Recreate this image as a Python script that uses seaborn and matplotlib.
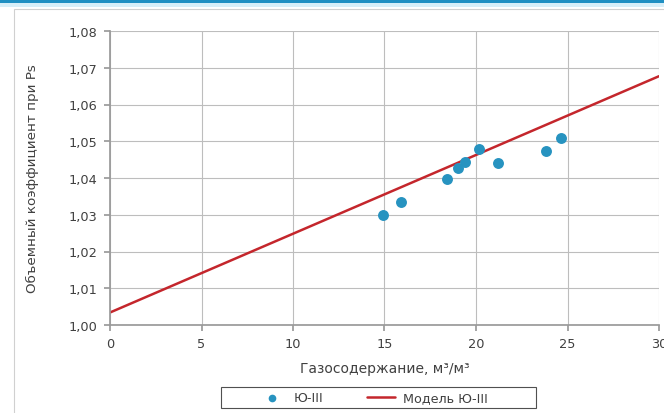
import matplotlib
matplotlib.use("Agg")
import matplotlib.pyplot as plt
import seaborn as sns
import pandas as pd
from matplotlib.patches import Rectangle
from matplotlib.ticker import FuncFormatter

# data
gas_content = [14.9, 15.9, 18.4, 19.0, 19.4, 20.15, 21.2, 23.85, 24.65]
volume_factor = [1.0300, 1.0336, 1.0398, 1.0427, 1.0444, 1.0478, 1.0441, 1.0473, 1.0510]
model_x = [0, 30]
model_y = [1.0034, 1.0677]
series_points = "Ю-III"
series_model = "Модель Ю-III"
x_label = "Газосодержание, м³/м³"
y_label = "Объемный коэффициент при Ps"

sns.set_theme(style="whitegrid")
plt.rcParams['font.family'] = ['DejaVu Sans']

W, H = 664, 414
fig = plt.figure(figsize=(W / 100, H / 100), dpi=100)
fig.patch.set_facecolor("white")

# top blue band
fig.add_artist(Rectangle((0, 1 - 4/H), 1, 4/H, transform=fig.transFigure,
                         facecolor="#1f8fc2", edgecolor="none"))
fig.add_artist(Rectangle((0, 1 - 8/H), 1, 4/H, transform=fig.transFigure,
                         facecolor="#d6eef8", edgecolor="none"))
# chart frame
fig.add_artist(Rectangle((14/W, -0.02), 1.0, 1 - 10/H + 0.02, transform=fig.transFigure,
                         facecolor="none", edgecolor="#d0d0d0", linewidth=0.8))

ax = fig.add_axes([110/W, 1 - 326/H, 549/W, 294/H])

df_pts = pd.DataFrame({"x": gas_content, "y": volume_factor, "s": series_points})
df_mod = pd.DataFrame({"x": model_x, "y": model_y, "s": series_model})

sns.lineplot(data=df_mod, x="x", y="y", ax=ax, color="#c4262c", linewidth=1.8,
             label=series_model, zorder=2)
sns.scatterplot(data=df_pts, x="x", y="y", ax=ax, color="#2793c0", s=62,
                edgecolor="#2793c0", linewidth=0, label=series_points, zorder=3)

ax.set_xlim(0, 30)
ax.set_ylim(1.0, 1.08)
ax.set_xticks(range(0, 31, 5))
ax.set_yticks([1.00 + 0.01 * i for i in range(9)])
ax.yaxis.set_major_formatter(FuncFormatter(lambda v, p: f"{v:.2f}".replace(".", ",")))
ax.set_facecolor("white")
ax.grid(True, color="#bdbdbd", linewidth=0.8)
for sp in ax.spines.values():
    sp.set_visible(False)
ax.spines["left"].set_visible(True)
ax.spines["bottom"].set_visible(True)
ax.spines["left"].set_color("#9a9a9a")
ax.spines["bottom"].set_color("#9a9a9a")
ax.tick_params(axis="both", labelsize=9.3, labelcolor="#404040", length=4,
               color="#9a9a9a", direction="out", left=True, bottom=True, pad=5)
ax.tick_params(axis="y", pad=5)

ax.set_xlabel(x_label, fontsize=10, color="#404040")
ax.xaxis.set_label_coords(0.5, (326 - 362) / 294)
ax.set_ylabel(y_label, fontsize=9.7, color="#404040")
ax.yaxis.set_label_coords((39 - 110) / 549, 0.5)

handles, labels = ax.get_legend_handles_labels()
order = [labels.index(series_points), labels.index(series_model)]
ax.legend_.remove()

# legend box
fig.add_artist(Rectangle((221/W, 1 - 409/H), 315/W, 21/H, transform=fig.transFigure,
                         facecolor="white", edgecolor="#505050", linewidth=0.8))
leg = fig.legend([handles[i] for i in order], [labels[i] for i in order],
                 loc="center", bbox_to_anchor=(373/W, 1 - 398.5/H), ncol=2,
                 fontsize=9.2, frameon=False,
                 handlelength=2.2, columnspacing=3.4, handletextpad=0.6,
                 markerscale=0.7)
for t in leg.get_texts():
    t.set_color("#404040")

fig.savefig("out.png", dpi=100)
